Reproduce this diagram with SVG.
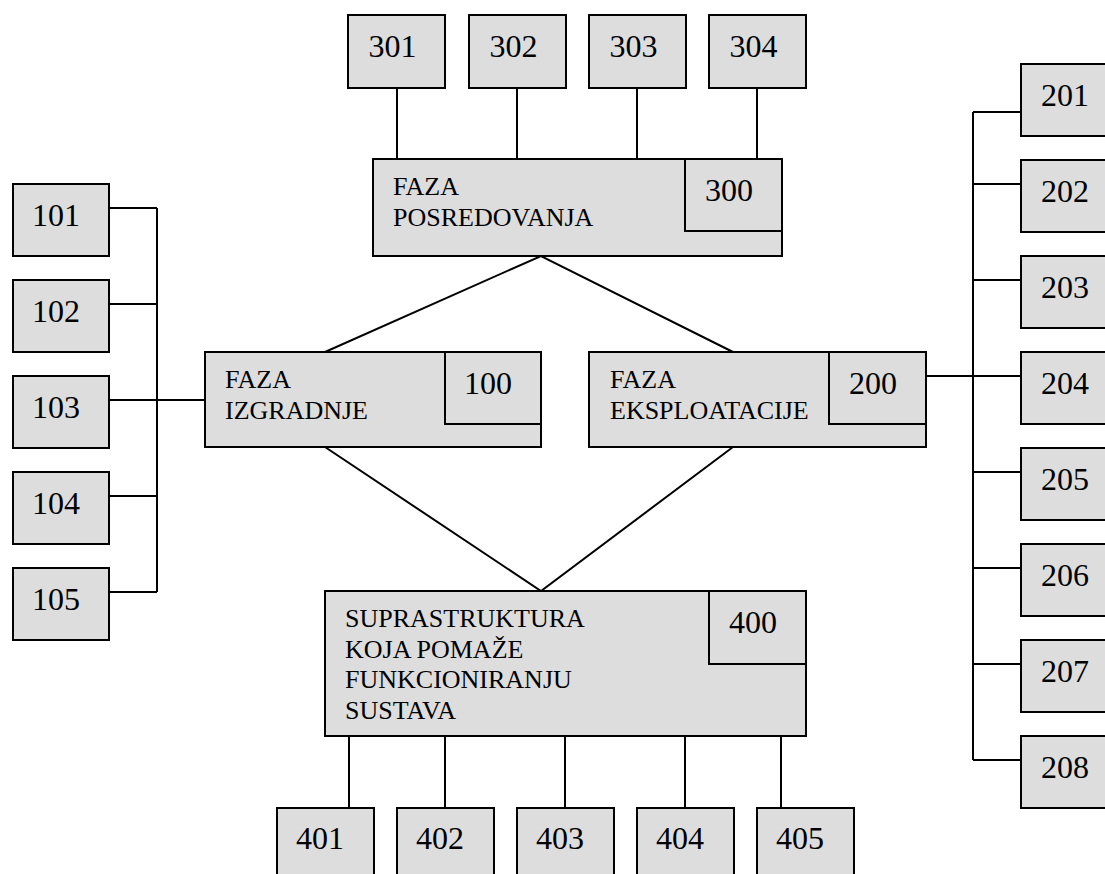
<svg xmlns="http://www.w3.org/2000/svg" width="1105" height="874" viewBox="0 0 1105 874">
<style>
.b{fill:#dddddd;stroke:#000;stroke-width:2}
.i{fill:none;stroke:#000;stroke-width:2}
.n{font-family:'Liberation Serif','DejaVu Serif',serif;font-size:32px;fill:#000}
.t{font-family:'Liberation Serif','DejaVu Serif',serif;font-size:26px;fill:#000}
.c{fill:none;stroke:#000;stroke-width:2}
</style>
<rect width="1105" height="874" fill="#fff"/>
<g id="connectors">
<path class="c" d="M397 88V159M517 88V159M637 88V159M757 88V159"/>
<path class="c" d="M325 352L541 256L733 352M325 447L541 591L733 447"/>
<path class="c" d="M157 208V592M109 208H157M109 304H157M109 400H205M109 496H157M109 592H157"/>
<path class="c" d="M973 112V760M973 112H1021M973 184H1021M973 280H1021M926 376H1021M973 472H1021M973 568H1021M973 664H1021M973 760H1021"/>
<path class="c" d="M349 736V808M445 736V808M565 736V808M685 736V808M781 736V808"/>
</g>
<g id="n300"><rect class="b" x="373" y="159" width="409" height="97"/><rect class="i" x="685" y="159" width="97" height="72"/>
<text class="t" x="393" y="195">FAZA</text><text class="t" x="393" y="226">POSREDOVANJA</text><text class="n" x="705" y="201">300</text></g>
<g id="n100"><rect class="b" x="205" y="352" width="336" height="95"/><rect class="i" x="445" y="352" width="96" height="72"/>
<text class="t" x="225" y="388">FAZA</text><text class="t" x="225" y="419">IZGRADNJE</text><text class="n" x="464" y="394">100</text></g>
<g id="n200"><rect class="b" x="589" y="352" width="337" height="95"/><rect class="i" x="829" y="352" width="97" height="72"/>
<text class="t" x="610" y="388">FAZA</text><text class="t" x="610" y="419">EKSPLOATACIJE</text><text class="n" x="849" y="394">200</text></g>
<g id="n400"><rect class="b" x="325" y="591" width="481" height="145"/><rect class="i" x="709" y="591" width="97" height="73"/>
<text class="t" x="345" y="627">SUPRASTRUKTURA</text><text class="t" x="345" y="657.5">KOJA POMAŽE</text><text class="t" x="345" y="688">FUNKCIONIRANJU</text><text class="t" x="345" y="718.5">SUSTAVA</text><text class="n" x="729" y="633">400</text></g>
<g id="n301"><rect class="b" x="348" y="15" width="97" height="73"/><text class="n" x="368.5" y="57">301</text></g>
<g id="n302"><rect class="b" x="469" y="15" width="97" height="73"/><text class="n" x="489.5" y="57">302</text></g>
<g id="n303"><rect class="b" x="589" y="15" width="97" height="73"/><text class="n" x="609.5" y="57">303</text></g>
<g id="n304"><rect class="b" x="709" y="15" width="97" height="73"/><text class="n" x="729.5" y="57">304</text></g>
<g id="n101"><rect class="b" x="13" y="184" width="96" height="72"/><text class="n" x="32" y="226">101</text></g>
<g id="n102"><rect class="b" x="13" y="280" width="96" height="72"/><text class="n" x="32" y="322">102</text></g>
<g id="n103"><rect class="b" x="13" y="376" width="96" height="72"/><text class="n" x="32" y="418">103</text></g>
<g id="n104"><rect class="b" x="13" y="472" width="96" height="72"/><text class="n" x="32" y="514">104</text></g>
<g id="n105"><rect class="b" x="13" y="568" width="96" height="72"/><text class="n" x="32" y="610">105</text></g>
<g id="n201"><rect class="b" x="1021" y="64" width="97" height="72"/><text class="n" x="1041" y="106">201</text></g>
<g id="n202"><rect class="b" x="1021" y="160" width="97" height="72"/><text class="n" x="1041" y="202">202</text></g>
<g id="n203"><rect class="b" x="1021" y="256" width="97" height="72"/><text class="n" x="1041" y="298">203</text></g>
<g id="n204"><rect class="b" x="1021" y="352" width="97" height="72"/><text class="n" x="1041" y="394">204</text></g>
<g id="n205"><rect class="b" x="1021" y="448" width="97" height="72"/><text class="n" x="1041" y="490">205</text></g>
<g id="n206"><rect class="b" x="1021" y="544" width="97" height="72"/><text class="n" x="1041" y="586">206</text></g>
<g id="n207"><rect class="b" x="1021" y="640" width="97" height="72"/><text class="n" x="1041" y="682">207</text></g>
<g id="n208"><rect class="b" x="1021" y="736" width="97" height="72"/><text class="n" x="1041" y="778">208</text></g>
<g id="n401"><rect class="b" x="277" y="808" width="97" height="72"/><text class="n" x="296" y="849">401</text></g>
<g id="n402"><rect class="b" x="397" y="808" width="97" height="72"/><text class="n" x="416" y="849">402</text></g>
<g id="n403"><rect class="b" x="517" y="808" width="97" height="72"/><text class="n" x="536" y="849">403</text></g>
<g id="n404"><rect class="b" x="637" y="808" width="97" height="72"/><text class="n" x="656" y="849">404</text></g>
<g id="n405"><rect class="b" x="757" y="808" width="97" height="72"/><text class="n" x="776" y="849">405</text></g>
</svg>
